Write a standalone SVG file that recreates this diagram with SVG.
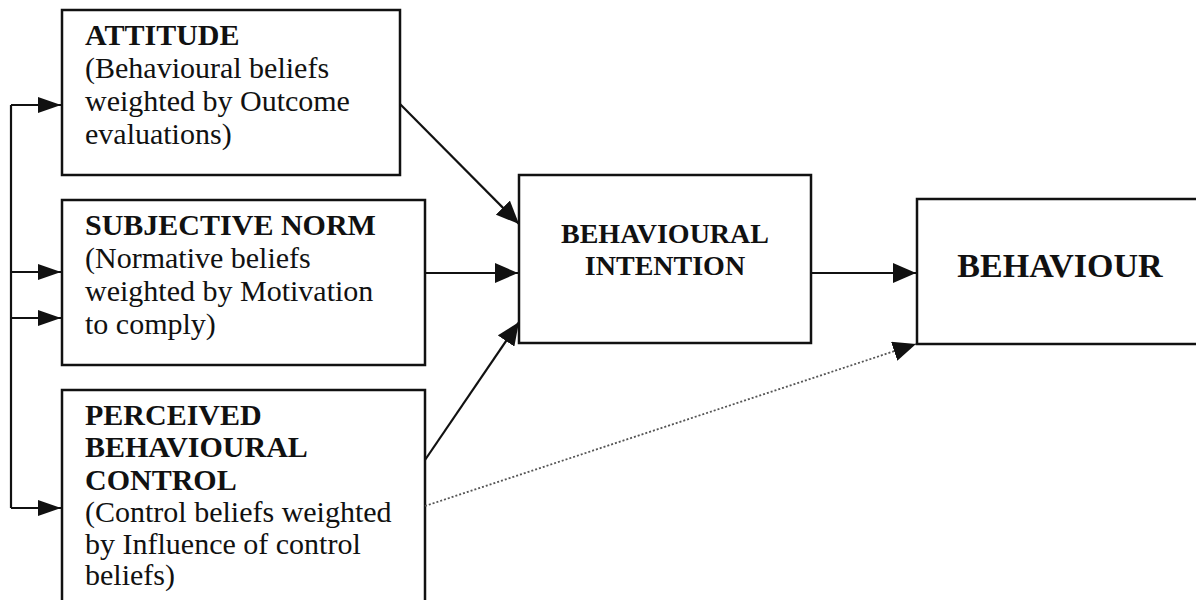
<svg xmlns="http://www.w3.org/2000/svg" width="1196" height="600" viewBox="0 0 1196 600">
<style>
.box{fill:#fff;stroke:#111;stroke-width:2.5}
.t{font-family:"Liberation Serif","Times New Roman",serif;font-size:30px;fill:#111}
.b{font-weight:bold}
.c{stroke:#111;stroke-width:2.2;fill:none}
.d{stroke:#555;stroke-width:1.8;fill:none;stroke-dasharray:2 2}
</style>
<defs>
<marker id="ah" markerUnits="userSpaceOnUse" markerWidth="24" markerHeight="20" refX="23" refY="10" orient="auto">
<path d="M0,0 L23,10 L0,20 z" fill="#111"/>
</marker>
<marker id="ahs" markerUnits="userSpaceOnUse" markerWidth="24" markerHeight="16" refX="23" refY="8" orient="auto">
<path d="M0,0 L23,8 L0,16 z" fill="#111"/>
</marker>
</defs>
<rect width="1196" height="600" fill="#fff"/>
<g id="attitude">
<rect class="box" x="62" y="10" width="338" height="165"/>
<text class="t" x="85" y="45"><tspan class="b">ATTITUDE</tspan><tspan x="85" y="78">(Behavioural beliefs</tspan><tspan x="85" y="111">weighted by Outcome</tspan><tspan x="85" y="144">evaluations)</tspan></text>
</g>
<g id="subjective-norm">
<rect class="box" x="62" y="200" width="363" height="165"/>
<text class="t" x="85" y="235"><tspan class="b">SUBJECTIVE NORM</tspan><tspan x="85" y="268">(Normative beliefs</tspan><tspan x="85" y="301">weighted by Motivation</tspan><tspan x="85" y="334">to comply)</tspan></text>
</g>
<g id="pbc">
<rect class="box" x="62" y="390" width="363" height="220"/>
<text class="t" x="85" y="425"><tspan class="b">PERCEIVED</tspan><tspan class="b" x="85" y="457">BEHAVIOURAL</tspan><tspan class="b" x="85" y="490">CONTROL</tspan><tspan x="85" y="522">(Control beliefs weighted</tspan><tspan x="85" y="554">by Influence of control</tspan><tspan x="85" y="585">beliefs)</tspan></text>
</g>
<g id="intention">
<rect class="box" x="519" y="175" width="292" height="168"/>
<text class="t b" x="665" y="243" text-anchor="middle" style="font-size:28px">BEHAVIOURAL</text>
<text class="t b" x="665" y="275" text-anchor="middle" style="font-size:28px">INTENTION</text>
</g>
<g id="behaviour">
<rect class="box" x="917" y="199" width="290" height="145"/>
<text class="t b" x="1060" y="277" text-anchor="middle" style="font-size:34px">BEHAVIOUR</text>
</g>
<g id="connectors">
<path class="c" d="M11,105 V508"/>
<path class="c" d="M11,105 H61" marker-end="url(#ahs)"/>
<path class="c" d="M11,272 H61" marker-end="url(#ahs)"/>
<path class="c" d="M11,318 H61" marker-end="url(#ahs)"/>
<path class="c" d="M11,508 H61" marker-end="url(#ahs)"/>
<path class="c" d="M400,104 L519,224" marker-end="url(#ah)"/>
<path class="c" d="M425,273 H518" marker-end="url(#ah)"/>
<path class="c" d="M425,460 L519,322" marker-end="url(#ah)"/>
<path class="c" d="M811,273 H916" marker-end="url(#ah)"/>
<path class="d" d="M425,506 L916,344" marker-end="url(#ah)"/>
</g>
</svg>
